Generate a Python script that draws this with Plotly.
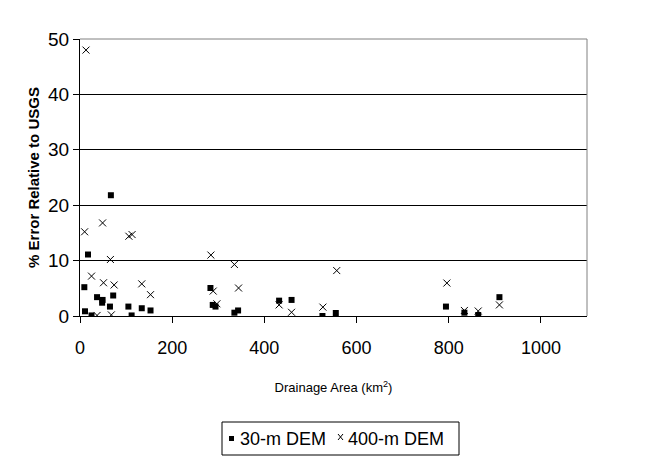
import plotly.graph_objects as go

# 30-m DEM series
dem30_area = [9.4, 10.8, 17.4, 25, 37, 48, 49, 65, 67, 72, 105, 112, 134, 153,
              283, 288, 294, 335, 343, 432, 459, 526, 555, 794, 834, 864, 910]
dem30_err = [5.2, 0.85, 11.1, 0.1, 3.4, 2.4, 2.9, 1.7, 21.8, 3.7, 1.7, 0.1, 1.4, 1.0,
             5.05, 2.0, 1.7, 0.6, 1.0, 2.77, 2.9, 0.0, 0.54, 1.7, 0.6, 0.18, 3.4]

# 400-m DEM series
dem400_area = [10, 13, 25, 37, 49, 51, 66, 68, 74, 106, 113, 134, 153,
               284, 289, 297, 335, 344, 432, 459, 527, 557, 796, 834, 864, 910]
dem400_err = [15.2, 48.0, 7.2, 0.1, 16.8, 6.0, 10.2, 0.2, 5.6, 14.4, 14.7, 5.8, 3.85,
              11.0, 4.5, 2.2, 9.3, 5.05, 2.0, 0.67, 1.6, 8.2, 5.95, 1.0, 0.9, 2.0]

series_names = ["30-m DEM", "400-m DEM"]
x_ticks = [0, 200, 400, 600, 800, 1000]
y_ticks = [0, 10, 20, 30, 40, 50]

FONT = "Liberation Sans, Arial, sans-serif"

# plot area in pixels (for the hand-built legend placement)
L, R, T, B = 80, 587, 39, 316


def px(xp):
    return (xp - L) / (R - L)


def py(yp):
    return (B - yp) / (B - T)


fig = go.Figure()
fig.add_trace(go.Scatter(
    x=dem30_area, y=dem30_err, mode="markers", name=series_names[0],
    marker=dict(symbol="square", size=6, color="black"),
))
fig.add_trace(go.Scatter(
    x=dem400_area, y=dem400_err, mode="markers", name=series_names[1],
    marker=dict(symbol="x-thin", size=7, color="black",
                line=dict(width=1, color="black")),
))

shapes = [
    # gray top/right plot border
    dict(type="line", xref="paper", yref="paper", x0=0, x1=1, y0=1, y1=1,
         line=dict(color="#808080", width=1)),
    dict(type="line", xref="paper", yref="paper", x0=1, x1=1, y0=0, y1=1,
         line=dict(color="#808080", width=1)),
    # legend box
    dict(type="rect", xref="paper", yref="paper",
         x0=px(222), x1=px(459), y0=py(455), y1=py(422),
         line=dict(color="black", width=1), fillcolor="white"),
    # legend square symbol
    dict(type="rect", xref="paper", yref="paper",
         x0=px(229), x1=px(234), y0=py(441), y1=py(436),
         line=dict(color="black", width=0), fillcolor="black"),
    # legend cross symbol
    dict(type="line", xref="paper", yref="paper",
         x0=px(338), x1=px(343), y0=py(434), y1=py(440),
         line=dict(color="black", width=1)),
    dict(type="line", xref="paper", yref="paper",
         x0=px(338), x1=px(343), y0=py(440), y1=py(434),
         line=dict(color="black", width=1)),
]

annotations = [
    dict(text=series_names[0], xref="paper", yref="paper", x=px(238), y=py(438.5),
         xanchor="left", yanchor="middle", showarrow=False,
         font=dict(size=18, family=FONT, color="black")),
    dict(text=series_names[1], xref="paper", yref="paper", x=px(346), y=py(438.5),
         xanchor="left", yanchor="middle", showarrow=False,
         font=dict(size=18, family=FONT, color="black")),
]

fig.update_layout(
    width=646, height=469,
    margin=dict(l=L, r=646 - R, t=T, b=469 - B),
    paper_bgcolor="white", plot_bgcolor="white",
    font=dict(family=FONT, color="black"),
    showlegend=False,
    xaxis=dict(
        range=[0, 1100], tickvals=x_ticks, ticktext=[str(v) for v in x_ticks],
        showgrid=False, zeroline=False,
        showline=True, linecolor="black", linewidth=1,
        ticks="outside", ticklen=6, tickcolor="black",
        tickfont=dict(size=18, family=FONT), ticklabelstandoff=9,
        title=dict(text="Drainage Area (km<sup>2</sup>)",
                   font=dict(size=13, family=FONT), standoff=26),
    ),
    yaxis=dict(
        range=[0, 50], tickvals=y_ticks, ticktext=[str(v) for v in y_ticks],
        showgrid=True, gridcolor="black", gridwidth=1, zeroline=False,
        showline=True, linecolor="black", linewidth=1,
        ticks="outside", ticklen=6, tickcolor="black",
        tickfont=dict(size=19, family=FONT),
        title=dict(text="<b>% Error Relative to USGS</b>",
                   font=dict(size=15, family=FONT), standoff=4),
    ),
    shapes=shapes,
    annotations=annotations,
)

fig.write_html("out.html",
               config={"displayModeBar": False},
               post_script="document.body.style.margin='0';document.body.style.padding='0';")
